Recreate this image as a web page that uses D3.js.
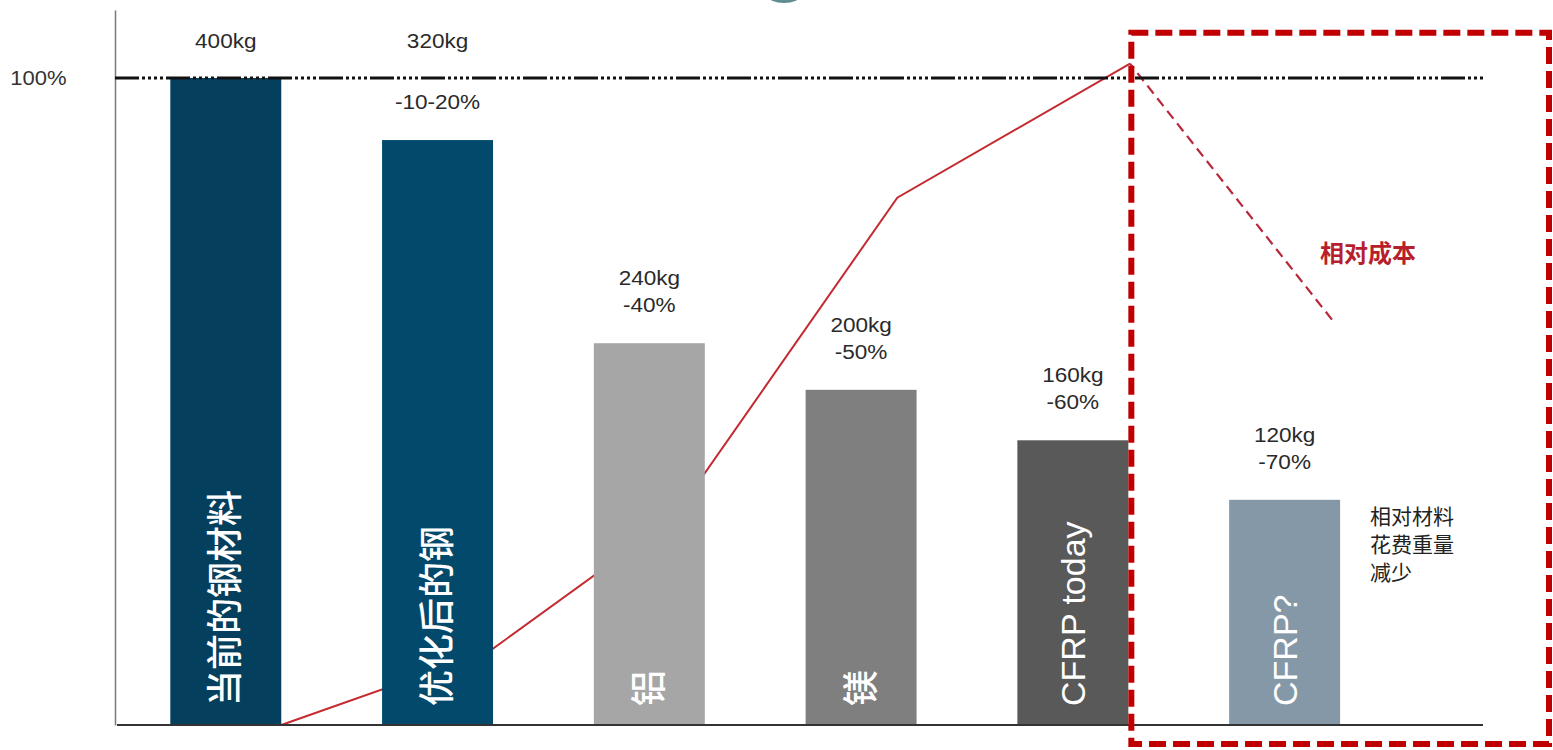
<!DOCTYPE html>
<html><head><meta charset="utf-8">
<script src="https://cdn.jsdelivr.net/npm/d3@7"></script>
<style>body{margin:0;background:#fff;} svg{display:block;}</style>
</head><body>
<svg id="chart" width="1553" height="750"></svg>
<script>
// ---- data ----
const categories = ["当前的钢材料", "优化后的钢", "铝", "镁", "CFRP today", "CFRP?"];
const barHeights = [100, 90.4, 59, 51.8, 44, 34.8];          // bar height, % of current steel (as drawn)
const weightLabels = ["400kg", "320kg", "240kg", "200kg", "160kg", "120kg"];
const reductionLabels = ["", "-10-20%", "-40%", "-50%", "-60%", "-70%"];
const costX = [0.262, 1.241, 2.114, 3.171, 4.27];             // relative cost line, position in category units
const costY = [0, 11.3, 32, 81.5, 102.2];                     // relative cost, %
const costProjX = [4.27, 5.232];                              // projected (dashed) cost
const costProjY = [102.2, 62.3];
const yTicks = [100];
const costLabel = "相对成本";
const noteLines = ["相对材料", "花费重量", "减少"];

// ---- style ----
const barColors = ["#04405e", "#03496c", "#a6a6a6", "#7f7f7f", "#595959", "#8598a8"];
const red = "#c00000";

// ---- layout ----
const W = 1553, H = 750;
const axisX = 115, rightX = 1483;
const svg = d3.select("#chart");

const y = d3.scaleLinear().domain([0, 110.5]).range([725, 10]);
const x = d3.scaleBand().domain(categories).range([170.3, 1340.1]).paddingInner(0.476).paddingOuter(0);
const bw = x.bandwidth();
const lineX = d3.scaleLinear().domain([0, categories.length - 1])
  .range([x(categories[0]) + bw / 2, x(categories[categories.length - 1]) + bw / 2]);

// decorative teal shape at top
svg.append("ellipse").attr("cx", 784).attr("cy", -4).attr("rx", 16).attr("ry", 7).attr("fill", "#5f8d92");

// y axis
const yAxis = svg.append("g").attr("transform", `translate(${axisX},0)`)
  .call(d3.axisLeft(y).tickValues(yTicks).tickSize(0).tickPadding(44).tickFormat(d => d + "%"));
yAxis.select(".domain").attr("stroke", "#7a7a7a").attr("stroke-width", 1.5);
yAxis.selectAll(".tick text").attr("font-family", "Liberation Sans, Arial, sans-serif")
  .attr("font-size", 20).attr("fill", "#333").attr("transform", "scale(1.1,1)");

// cost line (behind bars)
const line = d3.line().x(d => lineX(d[0])).y(d => y(d[1]));
svg.append("path").datum(costX.map((v, i) => [v, costY[i]]))
  .attr("d", line).attr("fill", "none").attr("stroke", "#c42a30").attr("stroke-width", 2);
svg.append("path").datum(costProjX.map((v, i) => [v, costProjY[i]]))
  .attr("d", line).attr("fill", "none").attr("stroke", "#b8283c").attr("stroke-width", 2.2)
  .attr("stroke-dasharray", "10,6").attr("stroke-dashoffset", -12);

// bars
svg.selectAll("rect.bar").data(categories).join("rect").attr("class", "bar")
  .attr("x", d => x(d)).attr("width", bw)
  .attr("y", (d, i) => y(barHeights[i])).attr("height", (d, i) => y(0) - y(barHeights[i]))
  .attr("fill", (d, i) => barColors[i]);

// baseline
svg.append("line").attr("x1", axisX + 2).attr("x2", rightX).attr("y1", y(0)).attr("y2", y(0))
  .attr("stroke", "#333").attr("stroke-width", 2);

// 100% reference line
svg.append("line").attr("x1", axisX).attr("x2", rightX).attr("y1", y(100)).attr("y2", y(100))
  .attr("stroke", "#111").attr("stroke-width", 3)
  .attr("stroke-dasharray", "24,3,3,3,3,3,3,3,3,3");

// bar labels inside (rotated)
svg.selectAll("text.inbar").data(categories).join("text").attr("class", "inbar")
  .attr("transform", d => `translate(${x(d) + bw / 2},${y(0) - 19}) rotate(-90)`)
  .attr("text-anchor", "start").attr("dominant-baseline", "central")
  .attr("font-family", "Liberation Sans, Arial, 'Noto Sans CJK SC', sans-serif")
  .attr("font-size", d => /[A-Za-z]/.test(d) ? 34 : 36)
  .attr("font-weight", d => /[A-Za-z]/.test(d) ? "normal" : 500)
  .attr("fill", "#fff").text(d => d);

// value labels
const labelFont = "Liberation Sans, Arial, sans-serif";
categories.forEach((c, i) => {
  const top = y(barHeights[i]);
  const cx = x(c) + bw / 2;
  let kgY = top - 58;
  if (kgY < y(100) + 20) kgY = y(100) - 30;
  svg.append("text").attr("transform", `translate(${cx},${kgY}) scale(1.1,1)`)
    .attr("text-anchor", "middle").attr("font-family", labelFont).attr("font-size", 20.5)
    .attr("fill", "#2a2a2a").text(weightLabels[i]);
  if (reductionLabels[i]) {
    svg.append("text").attr("transform", `translate(${cx},${top - 31}) scale(1.1,1)`)
      .attr("text-anchor", "middle").attr("font-family", labelFont).attr("font-size", 20.5)
      .attr("fill", "#2a2a2a").text(reductionLabels[i]);
  }
});

// note next to last bar
const last = categories[categories.length - 1];
svg.append("text").attr("x", x(last) + bw + 30).attr("y", y(barHeights[barHeights.length - 1]) + 24)
  .attr("font-family", "'Noto Sans CJK SC', sans-serif").attr("font-size", 21).attr("fill", "#222")
  .selectAll("tspan").data(noteLines).join("tspan")
  .attr("x", x(last) + bw + 30).attr("dy", (d, i) => i === 0 ? 0 : 28).text(d => d);

// cost label
svg.append("text").attr("x", 1320).attr("y", 262)
  .attr("font-family", "'Noto Sans CJK SC', sans-serif").attr("font-size", 24).attr("font-weight", "bold")
  .attr("fill", "#b81f2c").text(costLabel);

// red dashed highlight box
const boxL = x(categories[4]) + bw + 3;
svg.append("rect").attr("x", boxL).attr("y", y(107)).attr("width", W - 4 - boxL).attr("height", y(0) + 19 - y(107))
  .attr("fill", "none").attr("stroke", red).attr("stroke-width", 6).attr("stroke-dasharray", "17,7");
</script>
</body></html>
